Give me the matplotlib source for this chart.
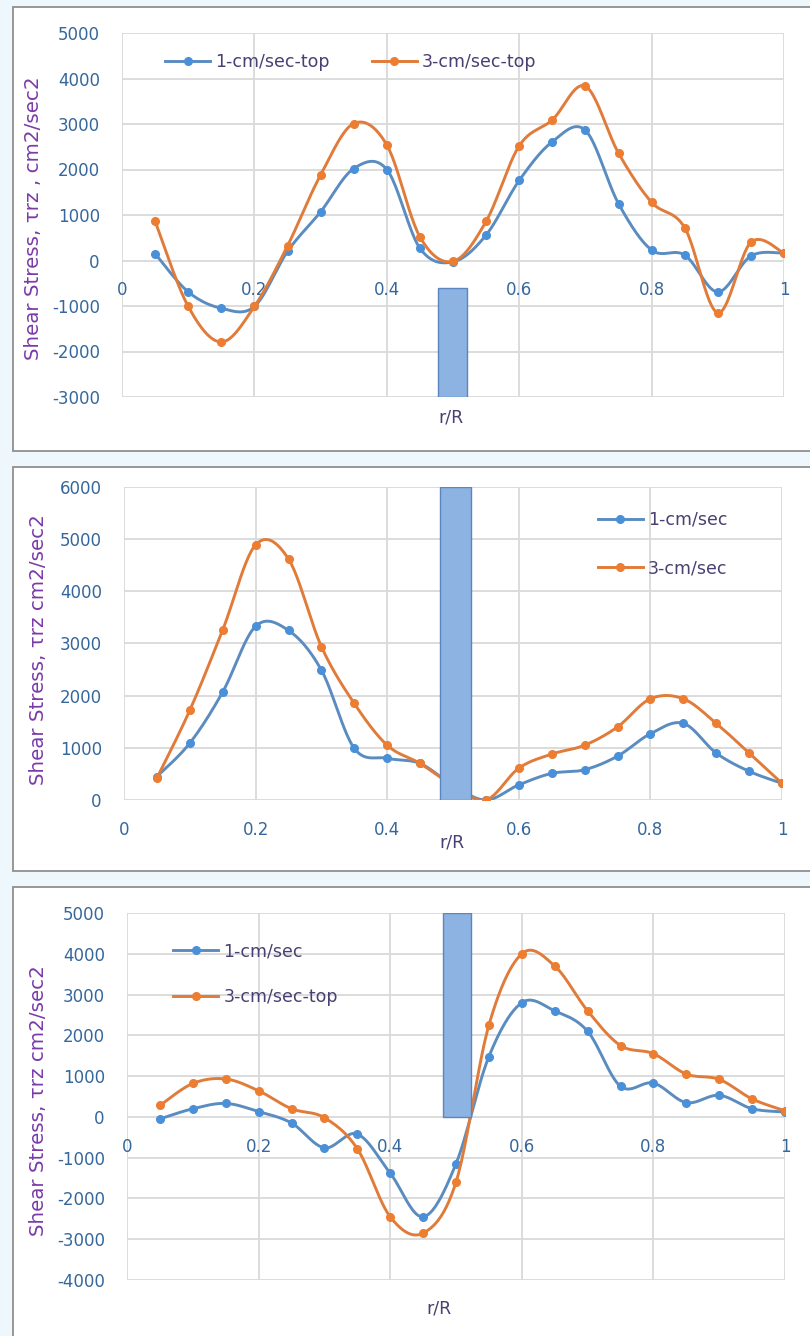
import numpy as np
import matplotlib
matplotlib.use("Agg")
import matplotlib.pyplot as plt
from matplotlib.patches import Rectangle

# ---- data -------------------------------------------------------------
r_over_R = [0.05, 0.10, 0.15, 0.20, 0.25, 0.30, 0.35, 0.40, 0.45, 0.50,
            0.55, 0.60, 0.65, 0.70, 0.75, 0.80, 0.85, 0.90, 0.95, 1.00]

# top chart
top_1cm = [150, -690, -1050, -1010, 200, 1070, 2020, 2000, 270, -30,
           560, 1760, 2610, 2860, 1250, 230, 120, -690, 100, 160]
top_3cm = [860, -1010, -1790, -1010, 320, 1880, 3010, 2540, 520, -20,
           860, 2520, 3090, 3830, 2360, 1280, 720, -1150, 400, 160]

# middle chart
mid_1cm = [450, 1090, 2070, 3330, 3250, 2490, 990, 800, 700, 280,
           0, 290, 510, 580, 840, 1270, 1470, 900, 550, 320]
mid_3cm = [420, 1720, 3260, 4890, 4620, 2940, 1850, 1050, 700, 280,
           0, 610, 880, 1050, 1400, 1940, 1940, 1470, 900, 320]

# bottom chart
bot_1cm = [-50, 200, 330, 130, -150, -760, -420, -1380, -2450, -1150,
           1480, 2800, 2600, 2100, 750, 830, 350, 530, 200, 120]
bot_3cm = [280, 820, 930, 640, 200, -20, -780, -2450, -2850, -1600,
           2250, 4000, 3700, 2600, 1750, 1550, 1050, 920, 440, 150]

# column marking the inner cylinder: (centre, width, bottom, top)
top_bar = (0.499, 0.044, -3000, -600)
mid_bar = (0.504, 0.046, 0, 6000)
bot_bar = (0.502, 0.042, 0, 5000)

x_ticks = [0, 0.2, 0.4, 0.6, 0.8, 1]
x_tick_labels = ["0", "0.2", "0.4", "0.6", "0.8", "1"]

# ---- styling ----------------------------------------------------------
BLUE_LINE, BLUE_MK = "#5a8cc0", "#4a90d9"
ORANGE_LINE, ORANGE_MK = "#e07b39", "#ed7d31"
TICK_CLR = "#35679c"
YLAB_CLR = "#7a3aa8"
TXT_CLR = "#4a3f72"
GRID_CLR = "#d9d9d9"
W, H = 810, 1336

plt.rcParams["font.family"] = ["DejaVu Sans"]
plt.rcParams["axes.unicode_minus"] = False
fig = plt.figure(figsize=(W / 100, H / 100), dpi=100, facecolor="#eef7fc")

# white panel frames, kept behind the charts
for y0, y1 in [(7, 451), (467, 871), (887, 1345)]:
    fig.patches.append(Rectangle((13 / W, 1 - y1 / H), 1.0, (y1 - y0) / H,
                                 transform=fig.transFigure, facecolor="white",
                                 edgecolor="#8f8f8f", lw=1.3, zorder=-5))


def excel_smooth(x, y, n=24):
    """Bezier smoothing in the style of spreadsheet 'smoothed line' charts."""
    x = np.asarray(x, float)
    y = np.asarray(y, float)
    pts = np.column_stack([x, y])
    ext = np.vstack([pts[:1], pts, pts[-1:]])
    t = np.linspace(0, 1, n + 1)[1:, None]
    out = [pts[:1]]
    for i in range(len(pts) - 1):
        p0, p1 = pts[i], pts[i + 1]
        c1 = p0 + (p1 - ext[i]) / 6.0
        c2 = p1 - (ext[i + 3] - p0) / 6.0
        seg = ((1 - t) ** 3) * p0 + 3 * ((1 - t) ** 2) * t * c1 \
            + 3 * (1 - t) * t ** 2 * c2 + t ** 3 * p1
        out.append(seg)
    curve = np.vstack(out)
    return curve[:, 0], curve[:, 1], n


def draw_panel(rect, s1, s2, labels, ylim, ystep, bar, ylabel, ylab_pos,
               xlab_pos, legend_kw):
    ax = fig.add_axes(rect)
    ax.set_facecolor("none")
    for vals, lab, lc, mc in [(s1, labels[0], BLUE_LINE, BLUE_MK),
                              (s2, labels[1], ORANGE_LINE, ORANGE_MK)]:
        cx, cy, n = excel_smooth(r_over_R, vals)
        ax.plot(cx, cy, color=lc, lw=2.1, marker="o", ms=5.5,
                markerfacecolor=mc, markeredgecolor=mc,
                markevery=slice(0, None, n), label=lab, zorder=3)
    c, w, b, t = bar
    ax.bar([c], [t - b], width=w, bottom=b, color="#8db3e2",
           edgecolor="#5a85c0", lw=1.0, zorder=4)

    ax.set_xlim(0, 1)
    ax.set_ylim(*ylim)
    ax.set_xticks(x_ticks)
    ax.set_xticklabels(x_tick_labels)
    ax.set_yticks(np.arange(ylim[0], ylim[1] + 1, ystep))
    ax.grid(True, color=GRID_CLR, lw=1.3, zorder=0)
    ax.set_axisbelow(True)
    for side in ["top", "right", "left"]:
        ax.spines[side].set_visible(False)
    ax.spines["bottom"].set_position(("data", 0))
    ax.spines["bottom"].set_color("none")
    ax.tick_params(axis="both", length=0, labelsize=12, labelcolor=TICK_CLR)
    ax.tick_params(axis="y", pad=16)
    ax.tick_params(axis="x", pad=15)

    ax.set_ylabel(ylabel, color=YLAB_CLR, fontsize=14.3)
    ax.yaxis.set_label_coords(*ylab_pos)
    ax.set_xlabel("r/R", color=TXT_CLR, fontsize=12.5, va="center")
    ax.xaxis.set_label_coords(*xlab_pos)

    leg = ax.legend(frameon=False, fontsize=12.5, numpoints=1,
                    handlelength=2.6, handletextpad=0.3, borderpad=0,
                    borderaxespad=0, loc="center left", **legend_kw)
    for txt in leg.get_texts():
        txt.set_color(TXT_CLR)
    return ax


def frac(px_left, px_right, px_top, px_bottom):
    return [px_left / W, 1 - px_bottom / H,
            (px_right - px_left) / W, (px_bottom - px_top) / H]


draw_panel(frac(122, 784, 33, 397), top_1cm, top_3cm,
           ["1-cm/sec-top", "3-cm/sec-top"], (-3000, 5000), 1000, top_bar,
           "Shear Stress, τrz , cm2/sec2", (-0.12, 0.49), (0.497, -0.055),
           dict(ncol=2, columnspacing=2.4, bbox_to_anchor=(0.065, 0.92)))

draw_panel(frac(124, 782, 487, 800), mid_1cm, mid_3cm,
           ["1-cm/sec", "3-cm/sec"], (0, 6000), 1000, mid_bar,
           "Shear Stress, τrz cm2/sec2", (-0.115, 0.48), (0.498, -0.135),
           dict(labelspacing=1.75, bbox_to_anchor=(0.72, 0.818)))

draw_panel(frac(127, 785, 913, 1280), bot_1cm, bot_3cm,
           ["1-cm/sec", "3-cm/sec-top"], (-4000, 5000), 1000, bot_bar,
           "Shear Stress, τrz cm2/sec2", (-0.12, 0.49), (0.474, -0.077),
           dict(labelspacing=1.6, bbox_to_anchor=(0.07, 0.834)))

fig.savefig("out.png", dpi=100, facecolor=fig.get_facecolor())
